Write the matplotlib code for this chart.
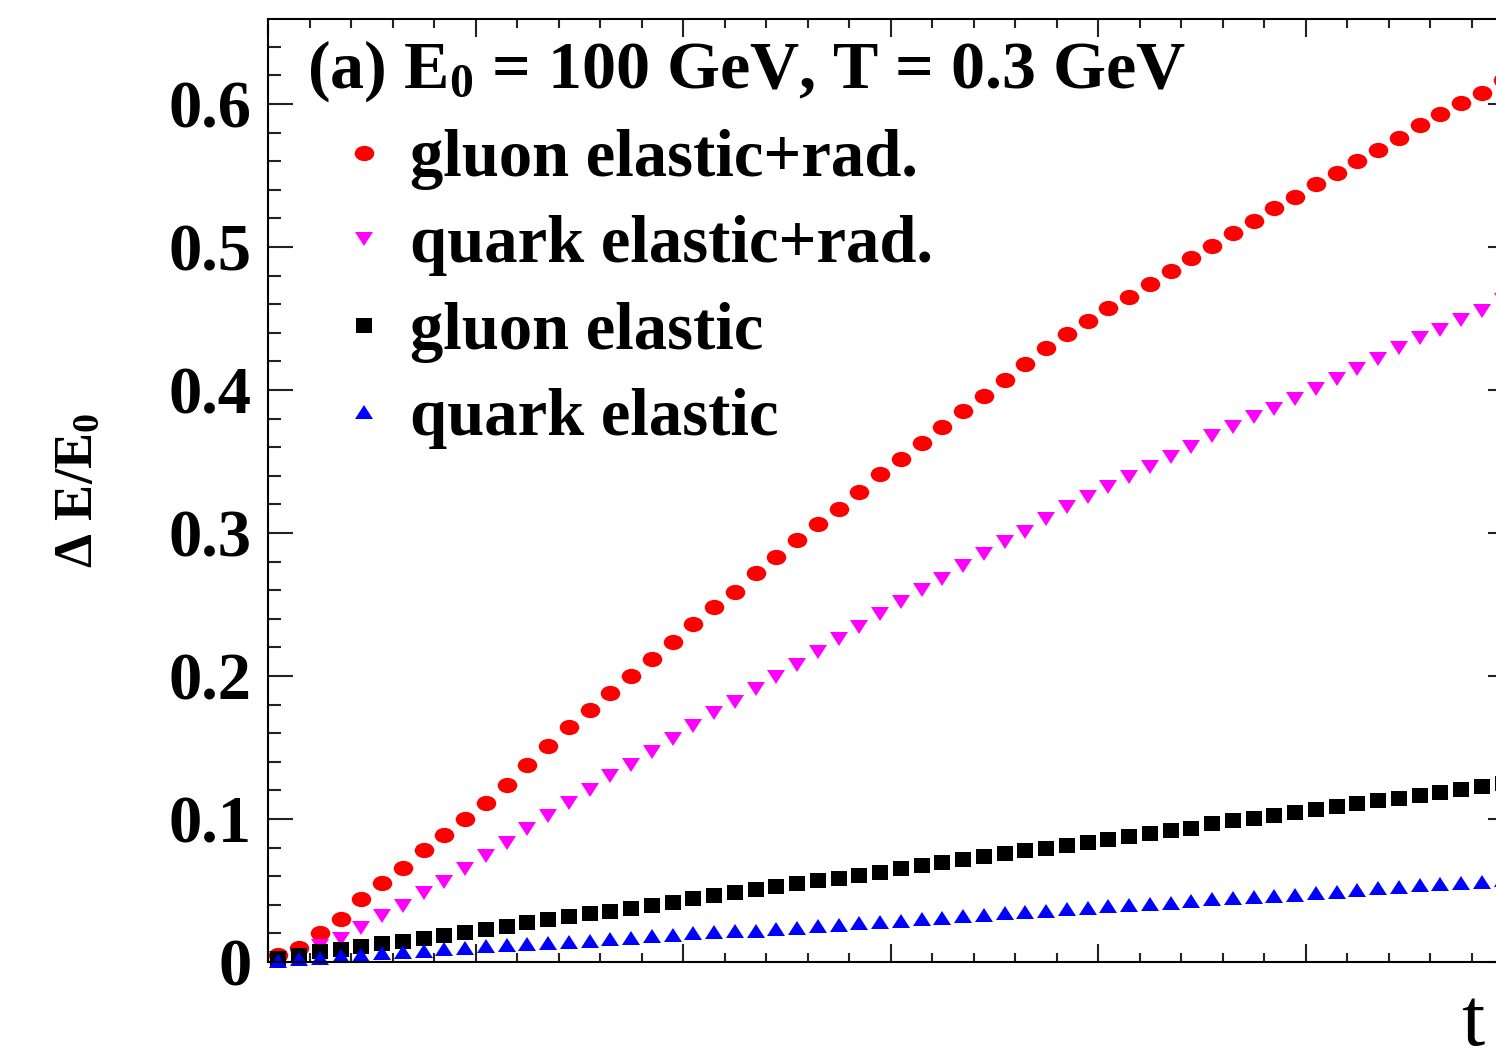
import numpy as np
import matplotlib

matplotlib.use("Agg")
import matplotlib.pyplot as plt
from matplotlib.markers import MarkerStyle
from matplotlib.transforms import Affine2D
from matplotlib.ticker import MultipleLocator

plt.rcParams["font.family"] = "Liberation Serif"
plt.rcParams["font.weight"] = "bold"
plt.rcParams["mathtext.fontset"] = "custom"
plt.rcParams["mathtext.rm"] = "Liberation Serif"
plt.rcParams["mathtext.bf"] = "Liberation Serif:bold"
plt.rcParams["mathtext.it"] = "Liberation Serif:italic"

# time bins (bin centres, 0.1 wide) and fractional energy loss dE/E0
t = np.arange(60) * 0.1 + 0.05

gluon_rad = [0.005, 0.010, 0.020, 0.030, 0.044, 0.055, 0.066, 0.078, 0.089, 0.100,
             0.111, 0.124, 0.138, 0.151, 0.164, 0.176, 0.188, 0.200, 0.212, 0.224,
             0.236, 0.248, 0.259, 0.272, 0.283, 0.295, 0.306, 0.317, 0.329, 0.341,
             0.352, 0.363, 0.374, 0.385, 0.396, 0.407, 0.418, 0.429, 0.439, 0.448,
             0.457, 0.465, 0.474, 0.483, 0.492, 0.501, 0.510, 0.518, 0.527, 0.535,
             0.544, 0.552, 0.560, 0.568, 0.576, 0.585, 0.593, 0.601, 0.608, 0.617]

quark_rad = [0.003, 0.004, 0.011, 0.016, 0.024, 0.032, 0.039, 0.048, 0.056, 0.065,
             0.074, 0.083, 0.093, 0.102, 0.111, 0.120, 0.130, 0.138, 0.147, 0.156,
             0.165, 0.174, 0.182, 0.191, 0.199, 0.208, 0.217, 0.226, 0.234, 0.243,
             0.252, 0.260, 0.268, 0.277, 0.285, 0.294, 0.301, 0.310, 0.318, 0.325,
             0.332, 0.339, 0.346, 0.353, 0.360, 0.368, 0.374, 0.381, 0.387, 0.394,
             0.401, 0.408, 0.415, 0.422, 0.429, 0.436, 0.442, 0.449, 0.455, 0.463]

gluon_el = [0.003, 0.005, 0.008, 0.009, 0.011, 0.013, 0.015, 0.017, 0.019, 0.021,
            0.023, 0.025, 0.028, 0.030, 0.032, 0.034, 0.036, 0.038, 0.040, 0.042,
            0.045, 0.047, 0.049, 0.051, 0.053, 0.055, 0.057, 0.059, 0.061, 0.063,
            0.066, 0.068, 0.070, 0.072, 0.074, 0.076, 0.078, 0.080, 0.082, 0.084,
            0.086, 0.088, 0.090, 0.092, 0.094, 0.097, 0.099, 0.101, 0.103, 0.105,
            0.107, 0.109, 0.111, 0.113, 0.115, 0.117, 0.119, 0.121, 0.123, 0.125]

quark_el = [0.001, 0.002, 0.003, 0.004, 0.005, 0.006, 0.007, 0.008, 0.009, 0.010,
            0.011, 0.012, 0.0125, 0.013, 0.014, 0.015, 0.016, 0.017, 0.018, 0.019,
            0.020, 0.021, 0.0215, 0.022, 0.023, 0.024, 0.025, 0.026, 0.027, 0.028,
            0.029, 0.030, 0.031, 0.032, 0.033, 0.034, 0.035, 0.036, 0.037, 0.038,
            0.039, 0.040, 0.0405, 0.041, 0.0425, 0.044, 0.045, 0.0455, 0.046, 0.047,
            0.048, 0.049, 0.050, 0.0515, 0.0527, 0.054, 0.0545, 0.055, 0.056, 0.057]

labels = ["gluon elastic+rad.", "quark elastic+rad.", "gluon elastic", "quark elastic"]


def wide(shape, sx):
    # markers are a little wider than tall
    return MarkerStyle(shape, transform=Affine2D().scale(sx, 1.0))


series = [
    (gluon_rad, wide("o", 1.28), 11.0, "#ff0000"),
    (quark_rad, wide("v", 1.25), 9.8, "#ff00ff"),
    (gluon_el, wide("s", 1.08), 10.8, "#000000"),
    (quark_el, wide("^", 1.25), 9.8, "#0000ff"),
]

fig = plt.figure(figsize=(14.96, 10.5), dpi=100)
fig.patch.set_facecolor("white")
# frame runs off the right edge of the canvas
ax = fig.add_axes([268 / 1496, 88 / 1050, 1245 / 1496, 943 / 1050])

for (vals, mk, ms, col), lab in zip(series, labels):
    ax.plot(t, vals, ls="none", marker=mk, ms=ms, color=col, mew=0, label=lab, clip_on=False)

ax.set_xlim(0, 6)
ax.set_ylim(0, 0.6594)
ax.xaxis.set_major_locator(MultipleLocator(1))
ax.xaxis.set_minor_locator(MultipleLocator(0.2))
ax.yaxis.set_minor_locator(MultipleLocator(0.02))
ax.set_yticks([0, 0.1, 0.2, 0.3, 0.4, 0.5, 0.6])
ax.set_yticklabels(["0", "0.1", "0.2", "0.3", "0.4", "0.5", "0.6"])
ax.tick_params(axis="both", which="both", direction="in", top=True, right=True,
               width=1.5, color="#222222")
ax.tick_params(axis="x", which="major", length=13, labelbottom=False)
ax.tick_params(axis="x", which="minor", length=6.5)
ax.tick_params(axis="y", which="major", length=18, labelsize=48, pad=12)
ax.tick_params(axis="y", which="minor", length=9.5)
for sp in ax.spines.values():
    sp.set_linewidth(1.5)

ax.set_ylabel(r"$\Delta\ \mathbf{E/E}_\mathbf{0}$", fontsize=39, va="baseline")
ax.yaxis.set_label_coords(-0.1414, 0.5)
ax.set_xlabel("t", fontsize=60, fontweight="normal", ha="left", va="baseline")
ax.xaxis.set_label_coords(0.9585, -0.088)

ax.text(0.0313, 0.9268, r"(a) E$_\mathbf{0}$ = 100 GeV, T = 0.3 GeV", transform=ax.transAxes,
        fontsize=49, va="baseline", ha="left")

ax.legend(loc="upper left", bbox_to_anchor=(0.0586, 0.8835), frameon=False, fontsize=48,
          handlelength=0.68, handletextpad=0.36, labelspacing=0.38, borderpad=0,
          borderaxespad=0, markerscale=1.0)

fig.savefig("out.png", dpi=100, facecolor="white")
